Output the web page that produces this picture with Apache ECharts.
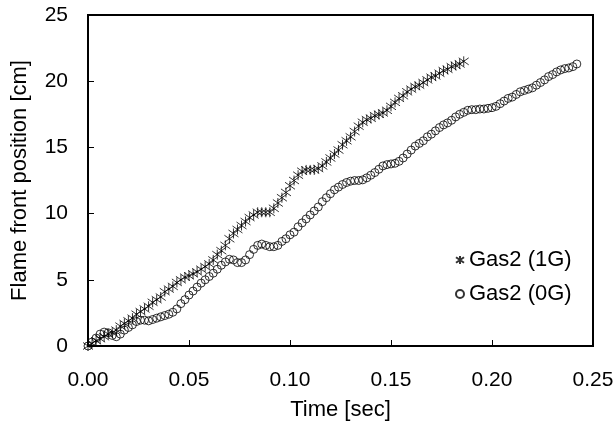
<!DOCTYPE html>
<html><head><meta charset="utf-8">
<script src="https://cdn.jsdelivr.net/npm/echarts@6/dist/echarts.min.js"></script>
<style>html,body{margin:0;padding:0;background:#fff}#c{width:616px;height:421px}</style>
</head><body><div id="c"></div>
<script>
const xTicks = [0, 0.05, 0.10, 0.15, 0.20, 0.25];
const yTicks = [0, 5, 10, 15, 20, 25];
const seriesNames = ['Gas2 (1G)', 'Gas2 (0G)'];

const time1G = [0.000,0.002,0.004,0.006,0.008,0.010,0.012,0.014,0.016,0.018,0.020,0.022,0.024,0.026,0.028,0.030,0.032,0.034,0.036,0.038,0.040,0.042,0.044,0.046,0.048,0.050,0.052,0.054,0.056,0.058,0.060,0.062,0.064,0.066,0.068,0.070,0.072,0.074,0.076,0.078,0.080,0.082,0.084,0.086,0.088,0.090,0.092,0.094,0.096,0.098,0.100,0.102,0.104,0.106,0.108,0.110,0.112,0.114,0.116,0.118,0.120,0.122,0.124,0.126,0.128,0.130,0.132,0.134,0.136,0.138,0.140,0.142,0.144,0.146,0.148,0.150,0.152,0.154,0.156,0.158,0.160,0.162,0.164,0.166,0.168,0.170,0.172,0.174,0.176,0.178,0.180,0.182,0.184,0.186];
const pos1G = [0.0,0.2,0.4,0.55,0.7,0.9,1.0,1.2,1.5,1.7,1.9,2.1,2.4,2.6,2.8,3.0,3.3,3.5,3.7,4.1,4.3,4.5,4.8,5.0,5.2,5.3,5.45,5.6,5.8,6.0,6.2,6.5,6.9,7.2,7.6,8.1,8.5,8.8,9.1,9.4,9.7,9.9,10.1,10.1,10.1,10.1,10.4,10.8,11.2,11.6,12.1,12.5,12.9,13.2,13.3,13.3,13.3,13.4,13.6,13.9,14.2,14.5,14.8,15.2,15.5,15.8,16.2,16.6,16.9,17.1,17.2,17.4,17.5,17.6,17.8,18.1,18.4,18.7,18.9,19.2,19.4,19.6,19.7,19.9,20.1,20.3,20.4,20.6,20.8,20.9,21.1,21.2,21.3,21.5];

const time0G = [0.000,0.002,0.004,0.006,0.008,0.010,0.012,0.014,0.016,0.018,0.020,0.022,0.024,0.026,0.028,0.030,0.032,0.034,0.036,0.038,0.040,0.042,0.044,0.046,0.048,0.050,0.052,0.054,0.056,0.058,0.060,0.062,0.064,0.066,0.068,0.070,0.072,0.074,0.076,0.078,0.080,0.082,0.084,0.086,0.088,0.090,0.092,0.094,0.096,0.098,0.100,0.102,0.104,0.106,0.108,0.110,0.112,0.114,0.116,0.118,0.120,0.122,0.124,0.126,0.128,0.130,0.132,0.134,0.136,0.138,0.140,0.142,0.144,0.146,0.148,0.150,0.152,0.154,0.156,0.158,0.160,0.162,0.164,0.166,0.168,0.170,0.172,0.174,0.176,0.178,0.180,0.182,0.184,0.186,0.188,0.190,0.192,0.194,0.196,0.198,0.200,0.202,0.204,0.206,0.208,0.210,0.212,0.214,0.216,0.218,0.220,0.222,0.224,0.226,0.228,0.230,0.232,0.234,0.236,0.238,0.240,0.242];
const pos0G = [0.0,0.3,0.6,0.9,1.05,1.0,0.8,0.7,0.9,1.2,1.4,1.6,1.85,1.95,1.95,1.9,2.0,2.1,2.2,2.3,2.4,2.55,2.8,3.2,3.5,3.85,4.15,4.45,4.75,5.0,5.25,5.5,5.8,6.1,6.35,6.55,6.5,6.3,6.3,6.5,6.9,7.3,7.6,7.7,7.6,7.5,7.5,7.6,7.9,8.1,8.4,8.6,9.0,9.3,9.6,9.9,10.2,10.5,10.9,11.2,11.5,11.8,12.0,12.2,12.35,12.45,12.5,12.5,12.55,12.7,12.9,13.1,13.35,13.6,13.7,13.75,13.8,13.95,14.2,14.5,14.8,15.1,15.3,15.5,15.8,16.0,16.25,16.5,16.7,16.85,17.05,17.3,17.5,17.65,17.8,17.85,17.85,17.9,17.9,17.95,18.0,18.1,18.3,18.5,18.7,18.8,19.0,19.2,19.3,19.4,19.5,19.7,19.9,20.1,20.35,20.5,20.7,20.85,20.95,21.0,21.1,21.3];

const FONT = '"Liberation Sans", Arial, sans-serif';
const asterisk = 'path://M5,0L5,10M0,1.5L10,8.5M0,8.5L10,1.5';

const chart = echarts.init(document.getElementById('c'), null, {renderer: 'canvas'});
chart.setOption({
  animation: false,
  backgroundColor: '#fff',
  grid: {left: 88, right: 23, top: 15, bottom: 75, outerBoundsMode: 'none', containLabel: false, show: true, borderColor: '#000', borderWidth: 2, backgroundColor: 'transparent'},
  xAxis: {
    type: 'value', min: xTicks[0], max: xTicks[xTicks.length - 1], interval: 0.05,
    name: 'Time [sec]', nameLocation: 'middle', nameGap: 53,
    nameTextStyle: {fontFamily: FONT, fontSize: 22, color: '#000'},
    axisLine: {show: true, lineStyle: {color: '#000', width: 2}},
    axisTick: {show: true, inside: true, length: 6, lineStyle: {color: '#000', width: 1}},
    axisLabel: {fontFamily: FONT, fontSize: 21, color: '#000', margin: 24, formatter: v => v.toFixed(2)},
    splitLine: {show: false}
  },
  yAxis: {
    type: 'value', min: yTicks[0], max: yTicks[yTicks.length - 1], interval: 5,
    name: 'Flame front position [cm]', nameLocation: 'middle', nameGap: 57, nameRotate: 90,
    nameTextStyle: {fontFamily: FONT, fontSize: 22, color: '#000'},
    axisLine: {show: true, lineStyle: {color: '#000', width: 2}},
    axisTick: {show: true, inside: true, length: 6, lineStyle: {color: '#000', width: 1}},
    axisLabel: {fontFamily: FONT, fontSize: 21, color: '#000', margin: 20},
    splitLine: {show: false}
  },
  legend: {
    orient: 'vertical', left: 450, top: 244, itemGap: 12, itemWidth: 8, itemHeight: 8,
    textStyle: {fontFamily: FONT, fontSize: 22, color: '#000'},
    data: seriesNames
  },
  series: [
    {
      name: seriesNames[0], type: 'scatter', symbol: asterisk, symbolSize: 10,
      itemStyle: {color: 'transparent', borderColor: '#000', borderWidth: 1},
      data: time1G.map((t, i) => [t, pos1G[i]])
    },
    {
      name: seriesNames[1], type: 'scatter', symbol: 'circle', symbolSize: 8,
      itemStyle: {color: 'transparent', borderColor: '#000', borderWidth: 1},
      data: time0G.map((t, i) => [t, pos0G[i]])
    }
  ]
});
</script></body></html>
